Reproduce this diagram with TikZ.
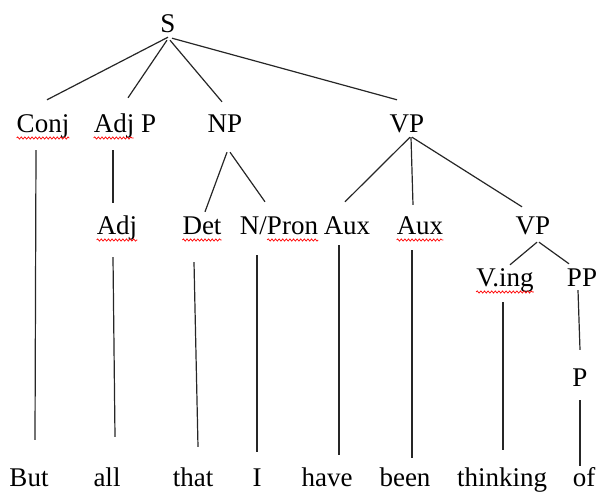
\documentclass[tikz,border=0pt]{standalone}
\usepackage{fontspec}
\setmainfont{Liberation Serif}
\usetikzlibrary{decorations.pathmorphing}
\begin{document}
\begin{tikzpicture}[x=1pt,y=-1pt,
	every node/.style={font=\fontsize{27}{30}\selectfont, inner sep=0pt, text height=19pt, text depth=0pt, anchor=base},
	branch/.style={line width=1.2pt, black!85},
	typo/.style={red, line width=0.7pt, decorate, decoration={snake, amplitude=1.1pt, segment length=3.6pt}}]
	\useasboundingbox (0,0) rectangle (600,494);
	% category labels
	\node (S) at (168,33) {S};
	\node (Conj) at (43,133) {Conj};
	\node (AdjP) at (125,133) {Adj P};
	\node (NP) at (225,133) {NP};
	\node (VP) at (407,133) {VP};
	\node (Adj) at (117,235) {Adj};
	\node (Det) at (202,235) {Det};
	\node (NPron) at (279,235) {N/Pron};
	\node (AuxA) at (347,235) {Aux};
	\node (AuxB) at (420,235) {Aux};
	\node (VPb) at (533,235) {VP};
	\node (Ving) at (505,287) {V.ing};
	\node (PP) at (582,287) {PP};
	\node (P) at (580,387) {P};
	% words
	\node (But) at (29,486) {But};
	\node (all) at (107,486) {all};
	\node (that) at (193,486) {that};
	\node (I) at (257,486) {I};
	\node (have) at (327,486) {have};
	\node (been) at (405,486) {been};
	\node (thinking) at (502,486) {thinking};
	\node (of) at (584,486) {of};
	
	\draw [branch] ([yshift=-4pt]S.south) -- ([xshift=4pt,yshift=14pt]Conj.north);
	\draw [branch] ([xshift=-1pt,yshift=-7pt]S.south) -- ([xshift=3pt,yshift=16pt]AdjP.north);
	\draw [branch] ([xshift=2pt,yshift=-7pt]S.south) -- ([xshift=-3pt,yshift=12pt]NP.north);
	\draw [branch] ([xshift=4pt,yshift=-5pt]S.south) -- ([xshift=-10pt,yshift=14pt]VP.north);
	
	\draw [branch] ([xshift=-7pt,yshift=-17pt]Conj.south) -- ([xshift=6pt,yshift=27pt]But.north);
	\draw [branch] ([xshift=-12pt,yshift=-17pt]AdjP.south) -- ([xshift=-4pt,yshift=13pt]Adj.north);
	\draw [branch] ([xshift=-4pt,yshift=-22pt]Adj.south) -- ([xshift=8pt,yshift=30pt]all.north);
	
	\draw [branch] ([xshift=2pt,yshift=-19pt]NP.south) -- ([xshift=3pt,yshift=4pt]Det.north);
	\draw [branch] ([xshift=5pt,yshift=-19pt]NP.south) -- ([xshift=-14pt,yshift=14pt]NPron.north);
	\draw [branch] ([xshift=-8pt,yshift=-27pt]Det.south) -- ([xshift=5pt,yshift=20pt]that.north);
	\draw [branch] ([xshift=-22pt,yshift=-20pt]NPron.south) -- ([yshift=15pt]I.north);
	
	\draw [branch] ([xshift=3pt,yshift=-4pt]VP.south) -- ([xshift=-2pt,yshift=14pt]AuxA.north);
	\draw [branch] ([xshift=4pt,yshift=-4pt]VP.south) -- ([xshift=-7pt,yshift=11pt]AuxB.north);
	\draw [branch] ([xshift=5pt,yshift=-4pt]VP.south) -- ([xshift=-11pt,yshift=9pt]VPb.north);
	\draw [branch] ([xshift=-8pt,yshift=-10pt]AuxA.south) -- ([xshift=12pt,yshift=12pt]have.north);
	\draw [branch] ([xshift=-8pt,yshift=-15pt]AuxB.south) -- ([xshift=7pt,yshift=9pt]been.north);
	
	\draw [branch] ([xshift=4pt,yshift=-7pt]VPb.south) -- ([xshift=5pt,yshift=3pt]Ving.north);
	\draw [branch] ([xshift=6pt,yshift=-7pt]VPb.south) -- ([xshift=-13pt,yshift=4pt]PP.north);
	\draw [branch] ([xshift=-2pt,yshift=-15pt]Ving.south) -- ([xshift=1pt,yshift=17pt]thinking.north);
	\draw [branch] ([xshift=-4pt,yshift=-3pt]PP.south) -- ([yshift=18pt]P.north);
	\draw [branch] ([yshift=-13pt]P.south) -- ([xshift=-4pt,yshift=1pt]of.north);
	
	% spell-check underlines
	\draw [typo] ([yshift=-5pt]Conj.base west) -- ([yshift=-5pt]Conj.base east);
	\draw [typo] ([yshift=-5pt]AdjP.base west) -- ++(40,0);
	\draw [typo] ([yshift=-5pt]Adj.base west) -- ([yshift=-5pt]Adj.base east);
	\draw [typo] ([yshift=-5pt]Det.base west) -- ([yshift=-5pt]Det.base east);
	\draw [typo] ([xshift=-51pt,yshift=-5pt]NPron.base east) -- ([yshift=-5pt]NPron.base east);
	\draw [typo] ([yshift=-5pt]AuxB.base west) -- ([yshift=-5pt]AuxB.base east);
	\draw [typo] ([yshift=-5pt]Ving.base west) -- ([yshift=-5pt]Ving.base east);
\end{tikzpicture}
\end{document}
